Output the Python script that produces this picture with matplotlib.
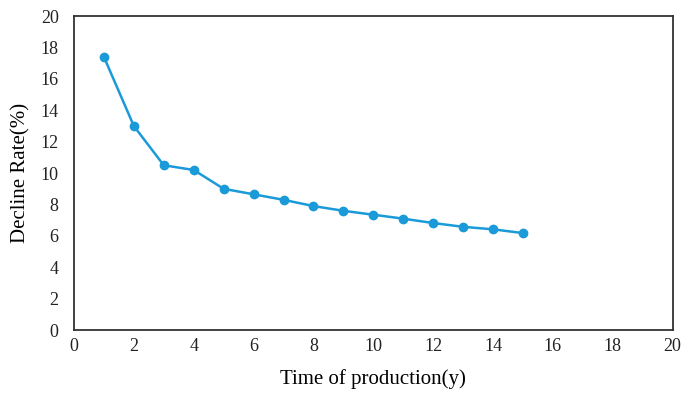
import matplotlib.pyplot as plt

# data
years = [1, 2, 3, 4, 5, 6, 7, 8, 9, 10, 11, 12, 13, 14, 15]
decline_rate = [17.4, 13.0, 10.5, 10.2, 9.0, 8.65, 8.3, 7.9, 7.6, 7.35, 7.1, 6.82, 6.58, 6.42, 6.18]
ticks = list(range(0, 21, 2))

plt.rcParams['font.family'] = ['Liberation Serif', 'DejaVu Serif']

fig = plt.figure(figsize=(6.85, 3.93), dpi=100)
ax = fig.add_axes([0.108, 0.160, 0.874, 0.799])

ax.plot(years, decline_rate, color='#1a9ad8', linewidth=1.8,
        marker='o', markersize=6)

ax.set_xlim(0, 20)
ax.set_ylim(0, 20)
ax.set_xticks(ticks)
ax.set_yticks(ticks)
ax.tick_params(length=0, labelsize=13, colors='#222222')
ax.tick_params(axis='y', pad=11)
ax.tick_params(axis='x', pad=6)

for s in ax.spines.values():
    s.set_color('#333333')
    s.set_linewidth(1.3)

ax.set_xlabel('Time of production(y)', fontsize=15, labelpad=10)
ax.set_ylabel('Decline Rate(%)', fontsize=15, labelpad=7)

fig.savefig('out.png', dpi=100)
